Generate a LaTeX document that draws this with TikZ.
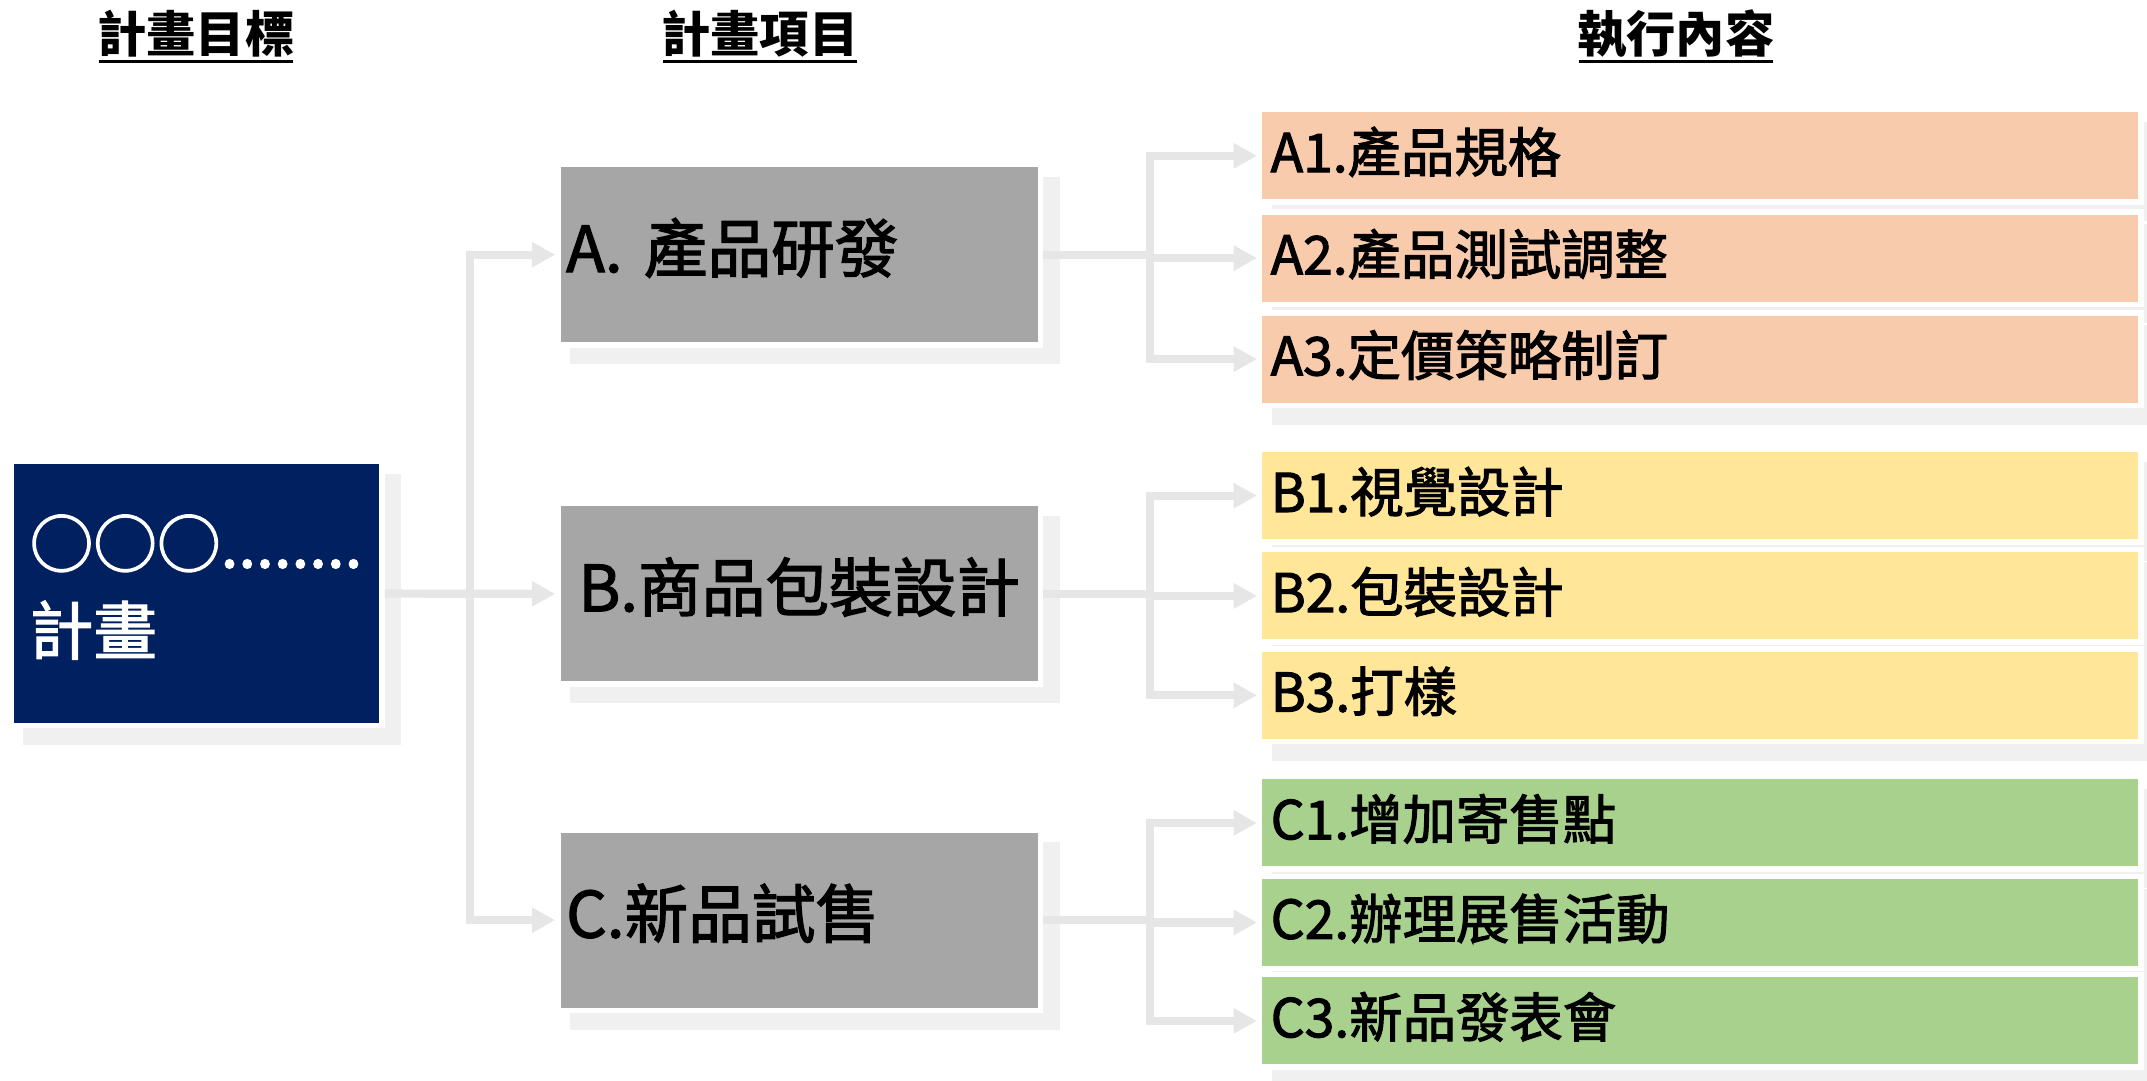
\documentclass[tikz,border=0pt]{standalone}
\usepackage{fontspec}
\newfontfamily\cjk{Noto Sans CJK TC}
\newfontfamily\cjkmed{Noto Sans CJK TC}[FakeBold=2]
\usetikzlibrary{arrows.meta,calc,backgrounds}
\definecolor{navy}{HTML}{002060}
\definecolor{boxgray}{HTML}{A6A6A6}
\definecolor{shadowc}{HTML}{F0F0F0}
\definecolor{connc}{HTML}{E6E6E6}
\definecolor{peach}{HTML}{F8CBAD}
\definecolor{ylw}{HTML}{FFE699}
\definecolor{grn}{HTML}{A9D18E}
\tikzset{
  boxbase/.style={rectangle, draw=none, inner ysep=0pt, outer sep=4pt},
  goalbox/.style={boxbase, fill=navy, minimum width=267pt, minimum height=189pt},
  goaltxt/.style={inner sep=0pt, text=white, font=\cjkmed\fontsize{46.5}{50}\selectfont, anchor=base west},
  itembox/.style={boxbase, fill=boxgray, minimum width=348.5pt, minimum height=128pt,
    inner xsep=4pt, text width=340.5pt, align=left,
    font=\cjkmed\fontsize{46.5}{50}\selectfont, text height=36pt, text depth=10.6pt},
  taskbox/.style={boxbase, minimum width=639.5pt, minimum height=63.5pt,
    inner xsep=6pt, text width=627.5pt, align=left,
    font=\cjkmed\fontsize{39}{44}\selectfont, text height=30pt, text depth=6.2pt},
  hdr/.style={inner sep=0pt, anchor=base, font=\cjk\bfseries\fontsize{36}{40}\selectfont,
    text height=28pt, text depth=5.8pt},
  uline/.style={draw=black, line width=2pt, shorten <=1.5pt, shorten >=1.5pt},
  conn/.style={draw=connc, line width=6pt, line join=miter},
  arrowend/.style={conn, -{Triangle[length=17pt,width=17.5pt]}},
  arrowboth/.style={conn, {Triangle[length=17pt,width=17.5pt]}-{Triangle[length=17pt,width=17.5pt]}},
}
\begin{document}
\begin{tikzpicture}[x=1pt,y=-1pt]
\useasboundingbox (0,0) rectangle (1568,788.75);

% headers
\node[hdr] (h1) at (143,38.7) {計畫目標};
\node[hdr] (h2) at (555,38.7) {計畫項目};
\node[hdr] (h3) at (1223.8,38.7) {執行內容};
\draw[uline] (h1.south west) -- (h1.south east);
\draw[uline] (h2.south west) -- (h2.south east);
\draw[uline] (h3.south west) -- (h3.south east);

% goal
\node[goalbox] (goal) at (143.5,433.5) {};
\node[goaltxt] (g1) at (21.5,414.5) {○○○........};
\node[goaltxt] (g2) at (21.5,478) {計畫};

% items
\node[itembox] (A) at (583.75,186) {A. 產品研發};
\node[itembox, align=center] (B) at (583.75,433.7) {B.商品包裝設計};
\node[itembox] (C) at (583.75,672) {C.新品試售};

% tasks
\node[taskbox, fill=peach] (A1) at (1241.75,113.8) {A1.產品規格};
\node[taskbox, fill=peach] (A2) at (1241.75,188.5) {A2.產品測試調整};
\node[taskbox, fill=peach] (A3) at (1241.75,262.3) {A3.定價策略制訂};
\node[taskbox, fill=ylw] (B1) at (1241.75,362) {B1.視覺設計};
\node[taskbox, fill=ylw] (B2) at (1241.75,435.2) {B2.包裝設計};
\node[taskbox, fill=ylw] (B3) at (1241.75,507.8) {B3.打樣};
\node[taskbox, fill=grn] (C1) at (1241.75,601) {C1.增加寄售點};
\node[taskbox, fill=grn] (C2) at (1241.75,673.7) {C2.辦理展售活動};
\node[taskbox, fill=grn] (C3) at (1241.75,745.6) {C3.新品發表會};

% shadows and white gaps
\begin{scope}[on background layer]
  \foreach \n in {goal,A,B,C,A1,A2,A3,B1,B2,B3,C1,C2,C3}{
    \fill[shadowc] ($(\n.north west)+(11,11)$) rectangle ($(\n.south east)+(12,12)$);
  }
  \foreach \n in {goal,A,B,C,A1,A2,A3,B1,B2,B3,C1,C2,C3}{
    \fill[white] (\n.north west) rectangle (\n.south east);
  }
\end{scope}

% connectors: goal -> items
\coordinate (tL) at ($(goal.east)!.5!(B.west)$);
\draw[arrowend] (goal.east) -- (B.west);
\draw[arrowboth] (A.west) -| (tL) |- (C.west);

% connectors: items -> tasks
\foreach \g in {A,B,C}{
  \coordinate (t\g) at ($(\g.east)!.5!(\g2.west)$);
  \draw[conn] (\g.east) -- (\g.east -| t\g);
  \draw[arrowboth] (\g1.west) -| (t\g) |- (\g3.west);
  \draw[arrowend] (t\g |- \g2.west) -- (\g2.west);
}
\end{tikzpicture}
\end{document}
